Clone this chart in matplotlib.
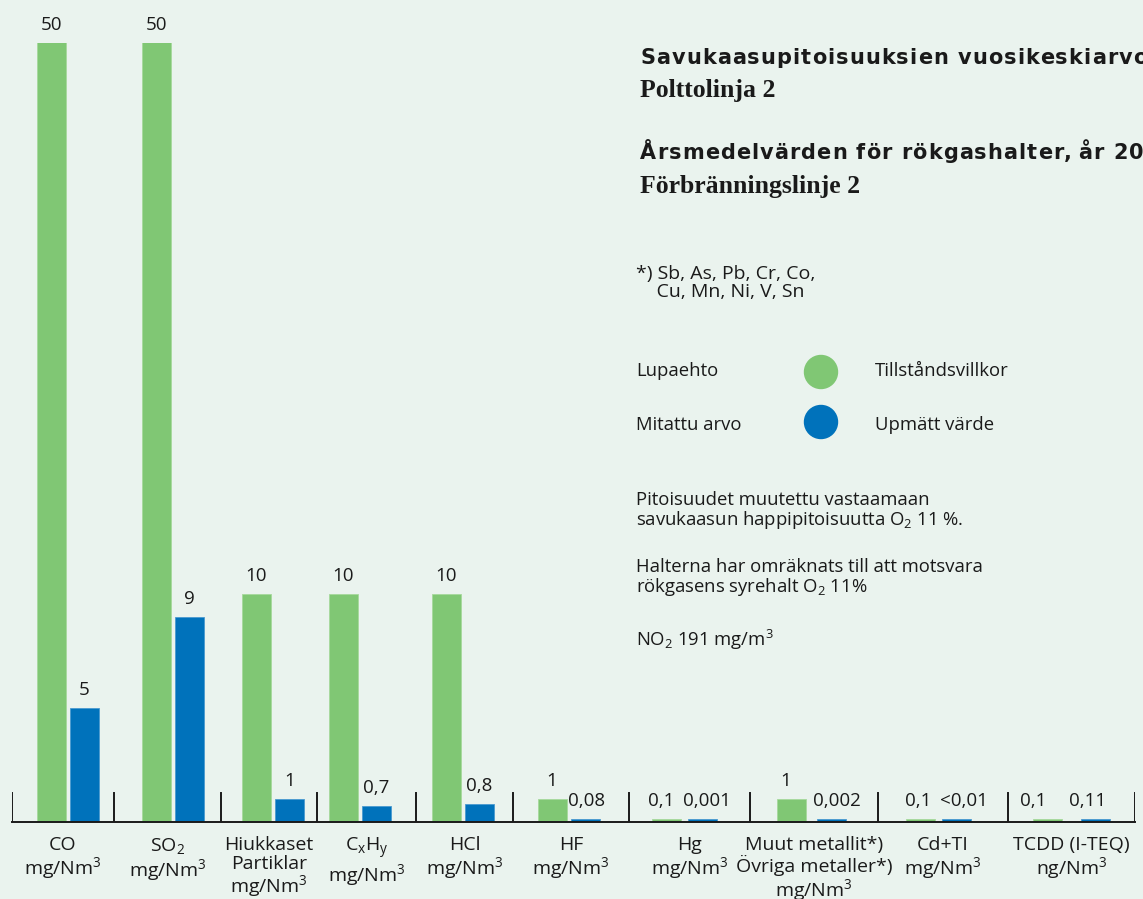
import numpy as np
import matplotlib.pyplot as plt
from matplotlib.patches import Ellipse
from matplotlib.font_manager import FontProperties
from matplotlib.textpath import text_to_path

# Categories and values as printed in the chart
categories = [
    "CO\nmg/Nm$^3$",
    "SO$_2$\nmg/Nm$^3$",
    "Hiukkaset\nPartiklar\nmg/Nm$^3$",
    "C$_\\mathrm{x}$H$_\\mathrm{y}$\nmg/Nm$^3$",
    "HCl\nmg/Nm$^3$",
    "HF\nmg/Nm$^3$",
    "Hg\nmg/Nm$^3$",
    "Muut metallit*)\nÖvriga metaller*)\nmg/Nm$^3$",
    "Cd+TI\nmg/Nm$^3$",
    "TCDD (I-TEQ)\nng/Nm$^3$",
]
permit_values = [50, 50, 10, 10, 10, 1, 0.1, 1, 0.1, 0.1]
measured_values = [5, 9, 1, 0.7, 0.8, 0.08, 0.001, 0.002, 0.01, 0.11]
permit_labels = ["50", "50", "10", "10", "10", "1", "0,1", "1", "0,1", "0,1"]
measured_labels = ["5", "9", "1", "0,7", "0,8", "0,08", "0,001", "0,002", "<0,01", "0,11"]

# layout (pixel-like x units)
group_widths = [102, 107, 96, 99, 97, 116, 121, 128, 130, 127]
pair_gaps = [4, 4, 4, 4, 4, 4, 7, 11, 7, 19]
pair_shift = [4.5, 5.5, 4, -6.5, -1.5, -2.5, -5, -3, -4.5, -0.5]
permit_nudge = [0, 0, 0, 0, 0, 0, -5, -5, -2, -14]
measured_nudge = [0, 0, 0, 0, 0, 2, 4, 6, 7, -7]
BAR_W = 29
Y_TOP = 34.17      # axis is cut here, the 50 bars run off the top
MIN_H = 0.15       # tiny values still get a visible sliver

GREEN = "#80c774"
BLUE = "#0072bb"
BG = "#eaf3ee"
INK = "#1a1a1a"
W, H = 1143, 899
DPI = 100
TXT = 13.3

plt.rcParams["font.family"] = ["Open Sans", "DejaVu Sans"]
plt.rcParams["mathtext.fontset"] = "custom"
plt.rcParams["mathtext.rm"] = "Open Sans"
plt.rcParams["mathtext.it"] = "Open Sans:italic"
plt.rcParams["mathtext.bf"] = "Open Sans:bold"
plt.rcParams["text.color"] = INK


def fx(px):
    return px / W


def fy(py):
    return 1 - py / H


fig = plt.figure(figsize=(W / DPI, H / DPI), dpi=DPI, facecolor=BG)
ax = fig.add_axes([fx(12), fy(822), fx(1135) - fx(12), fy(43) - fy(822)])
ax.set_facecolor(BG)

edges = np.concatenate([[0], np.cumsum(group_widths)])
centers = (edges[:-1] + edges[1:]) / 2 + np.array(pair_shift)
gaps = np.array(pair_gaps)
x_green = centers - gaps / 2 - BAR_W / 2
x_blue = centers + gaps / 2 + BAR_W / 2

h_green = np.maximum(permit_values, MIN_H)
h_blue = np.maximum(measured_values, MIN_H)

ax.bar(x_green, h_green, width=BAR_W, color=GREEN, edgecolor="#a6d99c", linewidth=0.6)
ax.bar(x_blue, h_blue, width=BAR_W, color=BLUE, edgecolor="#4a9ad0", linewidth=0.6)

for xs, hs, labels, nudge in [(x_green, h_green, permit_labels, permit_nudge),
                              (x_blue, h_blue, measured_labels, measured_nudge)]:
    for x, h, lab, dx in zip(xs, hs, labels, nudge):
        ax.annotate(lab, (x + dx, min(h, Y_TOP)), xytext=(0, 13), textcoords="offset points",
                    ha="center", va="center", fontsize=13.5, annotation_clip=False)

ax.set_xlim(edges[0], edges[-1])
ax.set_ylim(0, Y_TOP)
for s in ["top", "right", "left"]:
    ax.spines[s].set_visible(False)
ax.spines["bottom"].set_color(INK)
ax.spines["bottom"].set_linewidth(1.4)
ax.set_yticks([])
ax.set_xticks([])
for e in edges:
    ax.axvline(e, ymin=0, ymax=29 / 779, color=INK, lw=1.4)

for c, lab in zip((edges[:-1] + edges[1:]) / 2, categories):
    ax.annotate(lab, (c, 0), xytext=(0, -10), textcoords="offset points",
                ha="center", va="top", fontsize=14, linespacing=1.05,
                annotation_clip=False)


# letter-spaced bold headings, they run off the right edge like in the original
def spaced_title(s, x0, last_x, base_y, size=15):
    fp = FontProperties(family="DejaVu Sans", weight="bold", size=size)
    # text_to_path measures in points, convert to output pixels
    bar_w = text_to_path.get_text_width_height_descent("|", fp, ismath=False)[0]

    def adv(t):
        w = text_to_path.get_text_width_height_descent(t + "|", fp, ismath=False)[0]
        return (w - bar_w) * DPI / 72

    extra = (last_x - x0 - adv(s[:-1])) / (len(s) - 1)
    for i, ch in enumerate(s):
        fig.text(fx(x0 + adv(s[:i]) + i * extra), fy(base_y), ch, fontproperties=fp,
                 va="baseline", ha="left")


spaced_title("Savukaasupitoisuuksien vuosikeskiarvo", 640, 1133, 64)
spaced_title("Årsmedelvärden för rökgashalter, år 20", 640, 1129, 159)
fig.text(fx(640), fy(97), "Polttolinja 2", family="Liberation Serif",
         fontsize=18.5, fontweight="bold", va="baseline", ha="left")
fig.text(fx(640), fy(193), "Förbränningslinje 2", family="Liberation Serif",
         fontsize=18.5, fontweight="bold", va="baseline", ha="left")

fig.text(fx(636), fy(283), "*) Sb, As, Pb, Cr, Co,\n    Cu, Mn, Ni, V, Sn",
         fontsize=14, va="center", ha="left", linespacing=0.95)

# legend
fig.text(fx(636), fy(371), "Lupaehto", fontsize=TXT, va="center")
fig.text(fx(875), fy(371), "Tillståndsvillkor", fontsize=TXT, va="center")
fig.text(fx(636), fy(425), "Mitattu arvo", fontsize=TXT, va="center")
fig.text(fx(875), fy(425), "Upmätt värde", fontsize=TXT, va="center")
for py, col in [(372, GREEN), (422, BLUE)]:
    fig.add_artist(Ellipse((fx(821), fy(py)), 33 / W, 33 / H, color=col,
                           transform=fig.transFigure))

fig.text(fx(636), fy(511), "Pitoisuudet muutettu vastaamaan\nsavukaasun happipitoisuutta O$_2$ 11 %.",
         fontsize=TXT, va="center", linespacing=1.05)
fig.text(fx(636), fy(578), "Halterna har omräknats till att motsvara\nrökgasens syrehalt O$_2$ 11%",
         fontsize=TXT, va="center", linespacing=1.0)
fig.text(fx(636), fy(640), "NO$_2$ 191 mg/m$^3$", fontsize=TXT, va="center")

fig.savefig("out.png", dpi=DPI, facecolor=BG)
